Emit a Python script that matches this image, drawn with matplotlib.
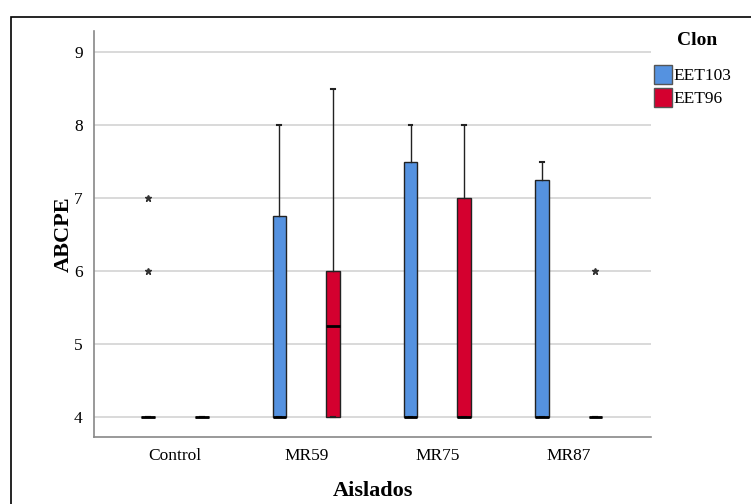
import matplotlib
matplotlib.use("Agg")
from matplotlib import pyplot as plt
from matplotlib.patches import Patch, Rectangle

plt.rcParams['font.family'] = ['Liberation Serif', 'DejaVu Serif']

aislados = ['Control', 'MR59', 'MR75', 'MR87']
clones = ['EET103', 'EET96']
colores = ['#5592e0', '#d4002f']

# box statistics: q1, median, q3, lower whisker, upper whisker
q1 = {'EET103': [4, 4, 4, 4], 'EET96': [4, 4, 4, 4]}
mediana = {'EET103': [4, 4, 4, 4], 'EET96': [4, 5.25, 4, 4]}
q3 = {'EET103': [4, 6.75, 7.5, 7.25], 'EET96': [4, 6, 7, 4]}
bigote_sup = {'EET103': [4, 8, 8, 7.5], 'EET96': [4, 8.5, 8, 4]}
atipicos = {'EET103': [[6, 7], [], [], []], 'EET96': [[], [], [], [6]]}

fig = plt.figure(figsize=(7.51, 5.04), dpi=100)
ax = fig.add_axes([0.125, 0.133, 0.742, 0.805])

desplaz = [-0.205, 0.205]
for k, clon in enumerate(clones):
    stats = []
    for i in range(len(aislados)):
        stats.append(dict(q1=q1[clon][i], med=mediana[clon][i], q3=q3[clon][i],
                          whislo=q1[clon][i], whishi=bigote_sup[clon][i],
                          fliers=atipicos[clon][i]))
    pos = [i + desplaz[k] for i in range(len(aislados))]
    ax.bxp(stats, positions=pos, widths=0.105, patch_artist=True,
           boxprops=dict(facecolor=colores[k], edgecolor='#222222', linewidth=1),
           medianprops=dict(color='black', linewidth=2),
           whiskerprops=dict(color='#222222', linewidth=1),
           capprops=dict(color='#222222', linewidth=1.5),
           capwidths=0.03,
           flierprops=dict(marker='*', markersize=5, markerfacecolor='#333333',
                           markeredgecolor='#333333', linestyle='none'),
           manage_ticks=False, zorder=3)

ax.set_xlim(-0.62, 3.63)
ax.set_ylim(3.72, 9.29)
ax.set_yticks([4, 5, 6, 7, 8, 9])
ax.set_xticks(range(len(aislados)))
ax.set_xticklabels(aislados)
ax.tick_params(length=0, labelsize=12.5, pad=8)
ax.yaxis.grid(True, color='#d3d3d3', linewidth=1.2)
ax.set_axisbelow(True)
for s in ['top', 'right']:
    ax.spines[s].set_visible(False)
for s in ['left', 'bottom']:
    ax.spines[s].set_color('#888888')
    ax.spines[s].set_linewidth(1.2)

ax.set_ylabel('ABCPE', fontsize=16, fontweight='bold', labelpad=0)
ax.set_xlabel('Aislados', fontsize=16, fontweight='bold', labelpad=12)

# legend title placed on its own, the SPSS layout leaves a gap under it
fig.text(0.928, 0.92, 'Clon', fontsize=14, fontweight='bold', ha='center', va='center')
handles = [Patch(facecolor=c, edgecolor='#555555', label=n) for c, n in zip(colores, clones)]
leg = fig.legend(handles=handles, loc='upper left',
                 bbox_to_anchor=(0.862, 0.885), frameon=False, fontsize=12.5,
                 handlelength=1.0, handleheight=1.3, handletextpad=0.1,
                 labelspacing=0.2, borderaxespad=0)

fig.patches.append(Rectangle((0.0146, -0.1), 1.1, 1.066, transform=fig.transFigure,
                             fill=False, edgecolor='black', linewidth=1.2))

fig.savefig('out.png', dpi=100)
